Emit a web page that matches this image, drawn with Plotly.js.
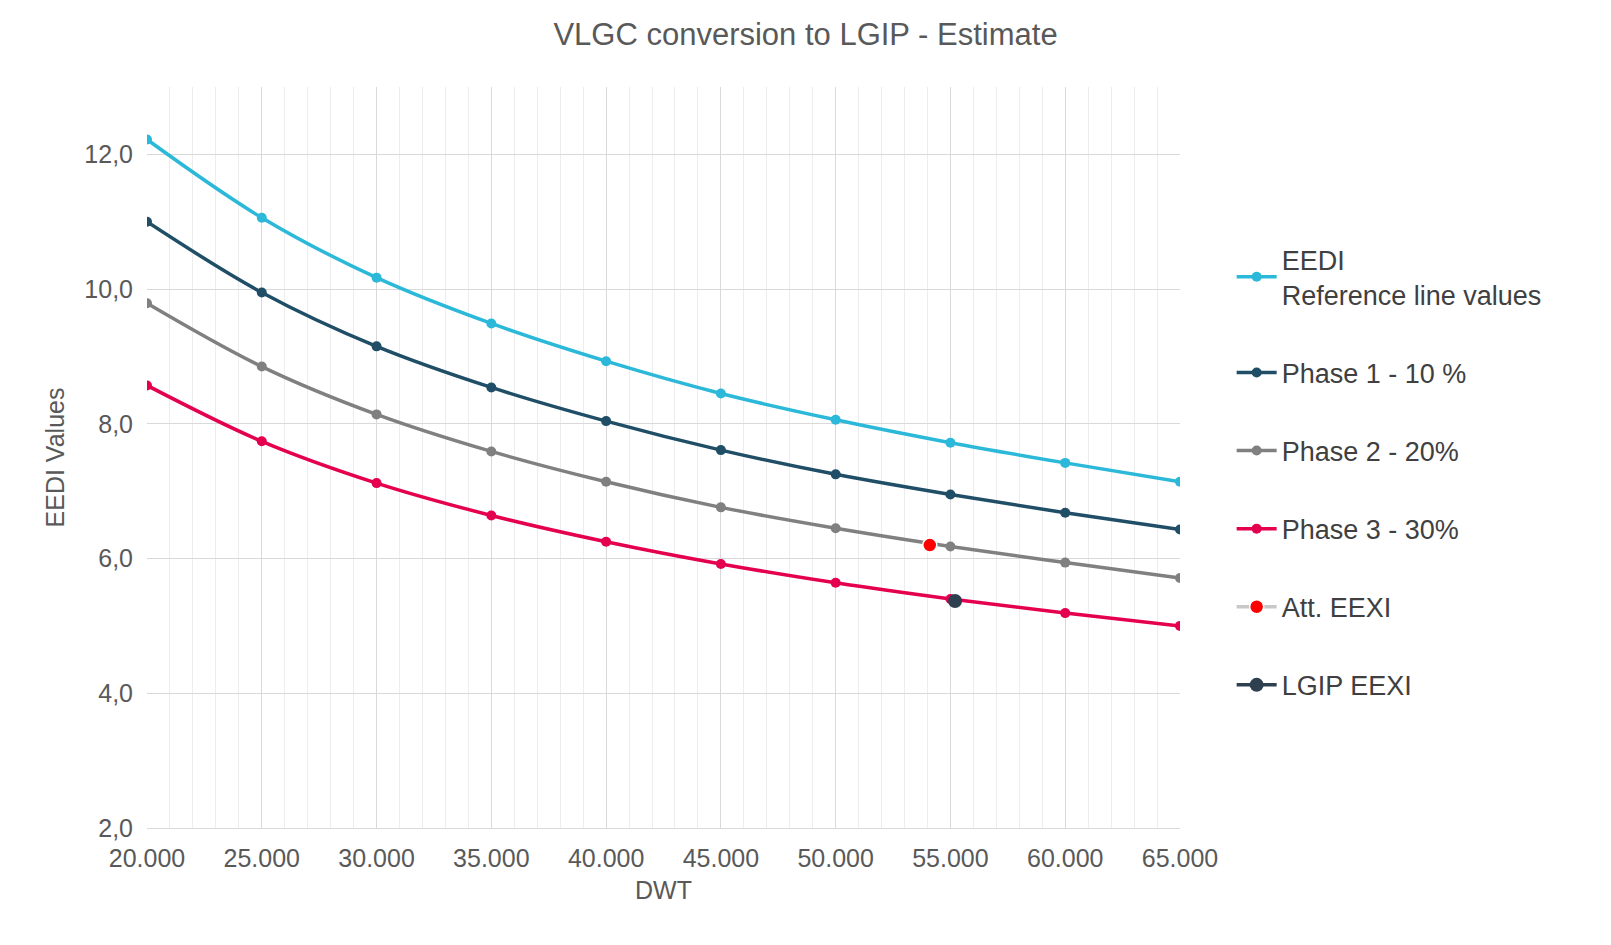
<!DOCTYPE html>
<html>
<head>
<meta charset="utf-8">
<script src="https://cdn.plot.ly/plotly-3.0.1.min.js"></script>
<style>body{margin:0;background:#fff}#chart{width:1611px;height:945px}</style>
</head>
<body>
<div id="chart"></div>
<script>
var dwt = [20000, 25000, 30000, 35000, 40000, 45000, 50000, 55000, 60000, 65000];
var eedi = [12.22, 11.06, 10.17, 9.49, 8.93, 8.45, 8.06, 7.72, 7.42, 7.14];
var phase1 = [11.0, 9.95, 9.15, 8.54, 8.04, 7.61, 7.25, 6.95, 6.68, 6.43];
var phase2 = [9.79, 8.85, 8.14, 7.59, 7.14, 6.76, 6.45, 6.18, 5.94, 5.71];
var phase3 = [8.57, 7.74, 7.12, 6.64, 6.25, 5.92, 5.64, 5.40, 5.19, 5.00];
var attX = [54100], attY = [6.20];
var lgipX = [55200], lgipY = [5.37];
var tickVals = [20000, 25000, 30000, 35000, 40000, 45000, 50000, 55000, 60000, 65000];
var tickText = tickVals.map(function(v){ return (v/1000) + '.000'; });

function line(name, x, y, color, g) {
  return {x: x, y: y, name: name, legendgroup: g, type: 'scatter', mode: 'lines+markers',
    line: {color: color, width: 3.5, shape: 'spline'}, marker: {color: color, size: 10}};
}
var traces = [
  line('EEDI<br>Reference line values', dwt, eedi, '#2bb8d9', 'a'),
  line('Phase 1 - 10 %', dwt, phase1, '#1f4e66', 'b'),
  line('Phase 2 - 20%', dwt, phase2, '#808080', 'c'),
  line('Phase 3 - 30%', dwt, phase3, '#e5004f', 'd'),
  {x: attX, y: attY, name: 'Att. EEXI', legendgroup: 'e', type: 'scatter', mode: 'lines+markers',
    line: {color: '#c8c8c8', width: 3.5}, marker: {color: '#ff0000', size: 14, line: {color: '#ffffff', width: 1.5}}},
  {x: lgipX, y: lgipY, name: 'LGIP EEXI', legendgroup: 'f', type: 'scatter', mode: 'lines+markers',
    line: {color: '#2e3f50', width: 3.5}, marker: {color: '#2e3f50', size: 14}}
];
var layout = {
  width: 1611, height: 945,
  margin: {l: 147, r: 431, t: 87, b: 117},
  paper_bgcolor: '#fff', plot_bgcolor: '#fff',
  font: {family: 'Liberation Sans, Arial, sans-serif', size: 25, color: '#595959'},
  title: {text: 'VLGC conversion to LGIP - Estimate', x: 0.5, xanchor: 'center', y: 0.975, font: {size: 31, color: '#595959'}},
  xaxis: {range: [20000, 65000], tickvals: tickVals, ticktext: tickText, showgrid: true, gridcolor: '#d9d9d9',
    minor: {dtick: 1000, showgrid: true, gridcolor: '#ededed'},
    zeroline: false, showline: true, linecolor: '#d9d9d9', ticks: 'outside', ticklen: 8, tickcolor: 'rgba(0,0,0,0)',
    title: {text: 'DWT', font: {size: 25, color: '#595959'}, standoff: 10}},
  yaxis: {range: [2, 13], tickvals: [2, 4, 6, 8, 10, 12], ticktext: ['2,0', '4,0', '6,0', '8,0', '10,0', '12,0'],
    showgrid: true, gridcolor: '#d9d9d9', zeroline: false, ticks: 'outside', ticklen: 8, tickcolor: 'rgba(0,0,0,0)',
    title: {text: 'EEDI Values', font: {size: 25, color: '#595959'}, standoff: 12}},
  legend: {x: 1.05, xanchor: 'left', y: 0.8, yanchor: 'top', tracegroupgap: 40,
    font: {size: 27, color: '#404040'}, itemwidth: 40},
  showlegend: true
};
Plotly.newPlot('chart', traces, layout, {displayModeBar: false});
</script>
</body>
</html>
